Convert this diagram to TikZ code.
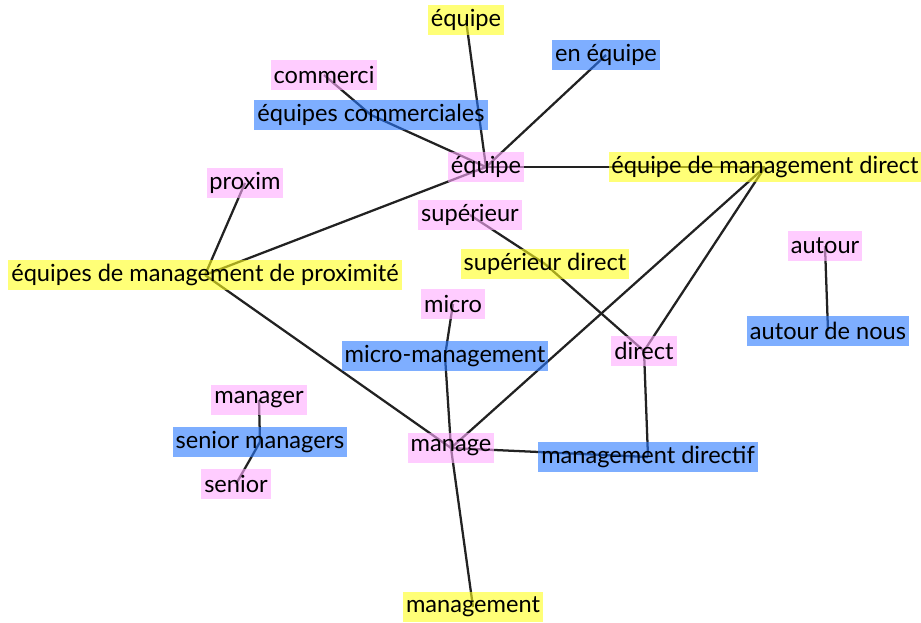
\documentclass[tikz,border=0pt]{standalone}
\usepackage{fontspec}
\setmainfont{Lato}
\usetikzlibrary{positioning}
\pgfdeclarelayer{bg}
\pgfsetlayers{bg,main}
\definecolor{pinkw}{RGB}{255,170,255}
\definecolor{yelw}{RGB}{255,255,28}
\definecolor{bluew}{RGB}{40,120,255}
\definecolor{linkc}{RGB}{34,34,34}

\begin{document}
\begin{tikzpicture}[x=0.75pt,y=-0.75pt,
   w/.style={inner xsep=2.2pt,inner ysep=0pt,minimum height=22.5pt,
     fill opacity=0.6,text opacity=1,font=\fontsize{17.7}{19}\selectfont},
   wp/.style={w,fill=pinkw},
   wy/.style={w,fill=yelw},
   wb/.style={w,fill=bluew},
   link/.style={linkc,line width=1.7pt}]
   \useasboundingbox (0,0) rectangle (921,623);
   \node[wy] (equipe_0) at (466,20) {équipe};
   \node[wb] (en_equipe) at (606,55) {en équipe};
   \node[wp] (commerci) at (324,75) {commerci};
   \node[wb] (equipes_comm) at (371,115) {équipes commerciales};
   \node[wp] (equipe) at (486,167) {équipe};
   \node[wy] (equipe_md) at (765,167) {équipe de management direct};
   \node[wp] (proxim) at (245,183) {proxim};
   \node[wp] (superieur) at (470,215) {supérieur};
   \node[wy] (equipes_mp) at (205,275) {équipes de management de proximité};
   \node[wy] (superieur_d) at (545,264) {supérieur direct};
   \node[wp] (autour) at (825,246) {autour};
   \node[wp] (micro) at (453,304) {micro};
   \node[wb] (autour_n) at (828,331) {autour de nous};
   \node[wb] (micro_m) at (445,356) {micro-management};
   \node[wp] (direct) at (644,351) {direct};
   \node[wp] (manager) at (259,400) {manager};
   \node[wb] (senior_m) at (260,442) {senior managers};
   \node[wp] (manage) at (451,448) {manage};
   \node[wb] (management_d) at (648,457) {management directif};
   \node[wp] (senior) at (236,484) {senior};
   \node[wy] (management) at (473,607) {management};
   \begin{pgfonlayer}{bg}
   \path[link]
    (equipe.center) edge (equipe_0.center)
          edge (en_equipe.center)
          edge (equipes_comm.center)
          edge (equipe_md.center)
          edge (equipes_mp.center)
    (commerci.center) edge (equipes_comm.center)
    (equipes_mp.center) edge (proxim.center)
          edge (manage.center)
    (equipe_md.center) edge (manage.center)
          edge (direct.center)
    (superieur_d.center) edge (superieur.center)
          edge (direct.center)
    (micro_m.center) edge (micro.center)
          edge (manage.center)
    (management_d.center) edge (direct.center)
          edge (manage.center)
    (manage.center) edge (management.center)
    (senior_m.center) edge (manager.center)
          edge (senior.center)
    (autour.center) edge (autour_n.center);
   \end{pgfonlayer}
\end{tikzpicture}
\end{document}
